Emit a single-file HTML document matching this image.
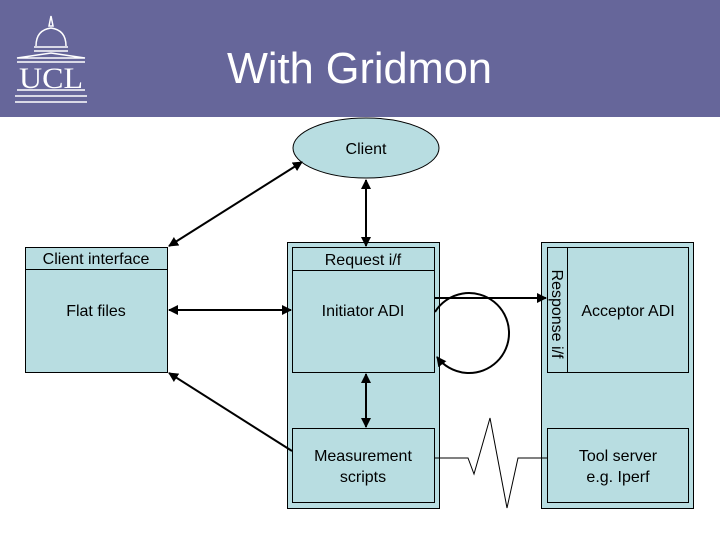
<!DOCTYPE html>
<html><head><meta charset="utf-8"><style>
body{margin:0;width:720px;height:540px;overflow:hidden;background:#fff}
svg{display:block;font-family:"Liberation Sans",Arial,sans-serif}
</style></head><body>
<svg width="720" height="540" viewBox="0 0 720 540">
<defs>
<marker id="a" viewBox="0 0 10 10" refX="9" refY="5" markerWidth="5" markerHeight="5" orient="auto-start-reverse"><path d="M0,0L10,5L0,10z" fill="#000"/></marker>
</defs>
<rect x="0" y="0" width="720" height="117" fill="#66669a"/>
<g stroke="#fff" fill="none" stroke-width="1.5">
<path d="M51,16 L49,26 L53,26 Z"/>
<path d="M36,46 Q36,30 51,28 Q66,30 66,46"/>
<line x1="34" y1="47" x2="68" y2="47"/><line x1="34" y1="51" x2="68" y2="51"/>
<path d="M17,58 L51,53 L85,58 Z"/>
<line x1="17" y1="62" x2="85" y2="62"/>
<line x1="17" y1="90" x2="85" y2="90"/>
<line x1="15" y1="96" x2="87" y2="96"/>
<line x1="15" y1="102" x2="87" y2="102"/>
</g>
<text x="51" y="88" font-family="Liberation Serif,serif" font-size="30" fill="#fff" text-anchor="middle" textLength="64" lengthAdjust="spacingAndGlyphs">UCL</text>
<text x="227" y="83" font-size="44" fill="#fff" textLength="265" lengthAdjust="spacingAndGlyphs">With Gridmon</text>

<g stroke="#000" stroke-width="1" fill="#b8dde1">
<ellipse cx="366" cy="148" rx="73" ry="30"/>
<rect x="25.5" y="247.5" width="142" height="125"/>
<line x1="25.5" y1="269.5" x2="167.5" y2="269.5"/>
<rect x="287.5" y="242.5" width="152" height="266"/>
<rect x="292.5" y="247.5" width="142" height="23"/>
<rect x="292.5" y="270.5" width="142" height="102"/>
<rect x="292.5" y="428.5" width="142" height="74"/>
<rect x="541.5" y="242.5" width="152" height="266"/>
<rect x="547.5" y="247.5" width="20" height="125"/>
<rect x="567.5" y="247.5" width="121" height="125"/>
<rect x="547.5" y="428.5" width="141" height="74"/>
</g>
<g font-size="16" fill="#000" text-anchor="middle">
<text x="366" y="154">Client</text>
<text x="96" y="264">Client interface</text>
<text x="96" y="316">Flat files</text>
<text x="363" y="265">Request i/f</text>
<text x="363" y="316">Initiator ADI</text>
<text x="363" y="461">Measurement</text>
<text x="363" y="482">scripts</text>
<text x="628" y="316">Acceptor ADI</text>
<text x="618" y="461">Tool server</text>
<text x="618" y="482">e.g. Iperf</text>
<text transform="translate(552,314) rotate(90)" x="0" y="0">Response i/f</text>
</g>
<g stroke="#000" stroke-width="2" fill="none">
<line x1="302" y1="162" x2="169" y2="246" marker-start="url(#a)" marker-end="url(#a)"/>
<line x1="366" y1="180" x2="366" y2="246" marker-start="url(#a)" marker-end="url(#a)"/>
<line x1="169" y1="310" x2="291" y2="310" marker-start="url(#a)" marker-end="url(#a)"/>
<line x1="169" y1="373" x2="292" y2="451" marker-start="url(#a)"/>
<line x1="366" y1="374" x2="366" y2="427" marker-start="url(#a)" marker-end="url(#a)"/>
<line x1="434" y1="298" x2="546" y2="298" marker-end="url(#a)"/>
<path d="M435,312 A40,40 0 1 1 437,357" marker-end="url(#a)"/>
</g>
<polyline points="434,458 468,458 474,474 490,418 507,508 518,458 547,458" fill="none" stroke="#000" stroke-width="1"/>
</svg>
</body></html>
